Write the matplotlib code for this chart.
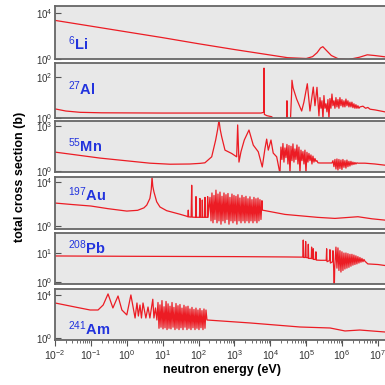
import matplotlib
matplotlib.use('Agg')
import matplotlib.pyplot as plt
from matplotlib import ticker

plt.rcParams['font.family'] = ['Liberation Sans', 'DejaVu Sans']
plt.rcParams['mathtext.fontset'] = 'custom'
plt.rcParams['mathtext.rm'] = 'Liberation Sans'
plt.rcParams['mathtext.it'] = 'Liberation Sans:italic'
plt.rcParams['mathtext.bf'] = 'Liberation Sans:bold'

# ---- data: neutron energy (eV) and total cross section (b) ----
li_E = [0.01, 0.1, 1, 10, 100, 1e3, 1e4, 3e4, 1e5, 1.5e5, 2e5, 2.5e5, 2.9e5, 3.5e5, 5e5,
        8e5, 1.5e6, 3e6, 5e6, 8e6, 2e7]
li_xs = [2240, 710, 224, 71, 21, 6.6, 2.2, 1.3, 1.1, 1.6, 3.5, 9, 11.7, 6.3, 2.0,
         1.0, 0.9, 1.4, 2.3, 2.0, 1.4]

al_E = [0.01, 0.02, 0.05, 0.2, 10, 1e3, 5.5e3, 6.5e3, 6.64e3, 6.8e3, 8e3, 1.1e4, 1.3e4,
        2.85e4, 2.9e4, 2.95e4, 3.6e4, 3.9e4, 4.0e4, 4.3e4, 5.4e4, 7.45e4, 8.6e4, 1.07e5,
        1.27e5, 1.57e5, 1.75e5, 1.99e5, 2.26e5,
        2.41e5, 2.57e5, 2.74e5, 2.92e5, 3.11e5, 3.32e5, 3.54e5, 3.77e5, 4.02e5, 4.29e5,
        4.57e5, 4.87e5, 5.20e5, 5.54e5, 5.91e5, 6.30e5, 6.72e5, 7.16e5, 7.64e5, 8.14e5,
        8.68e5, 9.26e5, 9.87e5, 1.052e6, 1.122e6, 1.196e6, 1.276e6, 1.36e6, 1.45e6, 1.546e6,
        1.649e6, 1.758e6, 1.874e6, 1.998e6, 2.13e6, 2.27e6, 2.42e6, 2.58e6, 2.75e6, 2.94e6,
        3.13e6, 3.8e6, 4.5e6, 5.2e6, 6e6, 8.2e6, 1.56e7, 2.2e7]
al_xs = [2.8, 2.2, 1.9, 1.8, 1.75, 1.75, 1.75, 1.9, 280, 1.5, 1.3, 1.15, 0.6,
         0.6, 7, 0.6, 0.6, 15, 71, 30, 8.5, 2.2, 6, 48,
         2.2, 33, 4, 32, 1.26,
         10, 3, 7, 0.9, 12.6, 3, 5, 2, 8, 0.9,
         9, 3, 15, 4, 7, 3, 10, 3.5, 8, 3,
         10, 4, 8, 3.5, 7, 3.5, 8.5, 4, 7, 3.5,
         6, 3.5, 6, 3.2, 5, 3, 4.5, 3, 4, 3,
         3.5, 3.8, 3.0, 3.3, 2.7, 2.5, 2.0, 1.9]

mn_E = [0.01, 0.18, 4.4, 16, 57, 109, 150, 232, 299, 340, 370, 400, 440, 544, 836, 1151,
        1228, 1335, 1517, 1876, 2535, 3340, 4600, 5946, 7080, 7890, 8750, 1.04e4, 1.2e4,
        1.5e4, 1.85e4,
        1.97e4, 2.10e4, 2.24e4, 2.39e4, 2.55e4, 2.72e4, 2.90e4, 3.09e4, 3.30e4, 3.52e4,
        3.75e4, 4.00e4, 4.26e4, 4.54e4, 4.84e4, 5.16e4, 5.51e4, 5.87e4, 6.26e4, 6.68e4,
        7.12e4, 7.59e4, 8.09e4, 8.63e4, 9.20e4, 9.82e4, 1.046e5, 1.115e5, 1.189e5, 1.268e5,
        1.352e5, 1.442e5, 1.537e5, 1.638e5, 1.747e5, 1.862e5, 1.986e5, 2.118e5, 2.409e5,
        5.20e5, 5.54e5, 5.91e5, 6.30e5, 6.72e5, 7.16e5, 7.64e5, 8.14e5, 8.68e5, 9.26e5,
        9.87e5, 1.052e6, 1.122e6, 1.196e6, 1.276e6, 1.36e6, 1.45e6, 1.546e6, 1.649e6,
        1.758e6, 1.874e6, 1.998e6, 2.13e6, 2.27e6, 2.42e6, 2.58e6, 2.75e6,
        4.3e6, 8.2e6, 1.56e7, 2.2e7]
mn_xs = [18.5, 7.4, 3.4, 2.9, 3.0, 3.3, 3.6, 9, 117, 600, 2500, 600, 195, 25, 15, 9,
         1175, 4, 19.5, 117, 540, 54, 19.5, 1.9, 32, 135, 25, 117, 16,
         9, 0.7,
         40, 6, 69, 4, 35, 8, 60, 3, 50, 0.7,
         45, 5, 65, 4, 30, 6, 55, 3, 40, 0.7,
         25, 5, 20, 3, 25, 0.7, 18, 4, 15, 5,
         12, 3, 10, 4, 7, 4.5, 5, 3.6, 3.5,
         3.5, 5, 2, 6, 1.4, 6.5, 1.2, 6, 1.5, 5.5,
         1.3, 6, 1.8, 5, 1.6, 5.5, 2, 4.5, 2.2,
         4.5, 2.6, 4, 2.8, 3.8, 3, 3.6, 3.4,
         3.4, 3.0, 2.5, 2.4]

au_E = [0.01, 0.03, 0.1, 0.3, 1.0, 2.0, 3.0, 3.6, 4.4, 4.8, 5.05, 5.3, 5.7, 6.8, 8.4, 12.9,
        30, 46, 50.5, 51.6, 52.7, 62, 64.3, 66.5, 82.5, 84.7, 87, 106, 109, 112, 124, 127,
        130, 147, 151, 155, 175, 179, 184,
        208, 222, 236, 252, 269, 286, 305, 326, 347, 370, 395, 421, 449, 478, 510, 544,
        580, 618, 659, 703, 749, 799, 852, 908, 969, 1030, 1100, 1170, 1250, 1340, 1420,
        1520, 1620, 1730, 1840, 1960, 2090, 2230, 2380, 2540, 2700, 2880, 3070, 3280, 3490,
        3720, 3970, 4230, 4520, 4810, 5130, 5470, 5830,
        6000, 2.55e4, 2.1e5, 6.3e5, 2.75e6, 6.8e6, 1.56e7, 2.2e7]
au_xs = [123, 90, 66, 38, 23, 27, 45, 80, 320, 2000, 28000, 4000, 1260, 160, 54, 25,
         12, 8, 7, 28, 7, 6.5, 5000, 6.5, 6.3, 470, 6.3, 6.3, 320, 6.3, 6.3, 230,
         6.3, 6.3, 400, 6.3, 6.3, 470, 6.3,
         400, 3, 1000, 2, 600, 4, 1800, 2, 800, 3, 1200, 1.5, 500, 3, 1000, 2,
         700, 4, 900, 1.5, 400, 3, 800, 2, 600, 3, 500, 1.5, 700, 3, 350,
         2, 600, 3, 400, 2, 500, 3, 300, 2, 450, 3, 250, 2, 400,
         3, 300, 2, 350, 3, 250, 4, 200,
         28, 11.5, 6.2, 5.0, 7.1, 4.6, 3.5, 3.3]

pb_E = [0.01, 1, 1e3, 3e4, 8.0e4, 8.25e4, 8.5e4, 9.4e4, 9.62e4, 9.9e4, 1.11e5, 1.14e5,
        1.17e5, 1.38e5, 1.41e5, 1.45e5, 1.54e5, 1.57e5, 1.61e5, 1.82e5, 1.86e5, 1.9e5,
        2.5e5, 3.6e5, 3.7e5, 3.8e5, 4.45e5, 4.57e5, 4.7e5, 5.4e5, 5.54e5, 5.8e5, 6.03e5,
        6.2e5,
        6.72e5, 7.16e5, 7.64e5, 8.14e5, 8.68e5, 9.26e5, 9.87e5, 1.052e6, 1.122e6, 1.196e6,
        1.276e6, 1.36e6, 1.45e6, 1.546e6, 1.649e6, 1.758e6, 1.874e6, 1.998e6, 2.13e6,
        2.27e6, 2.42e6, 2.58e6, 2.75e6, 2.94e6, 3.13e6, 3.34e6, 3.56e6, 3.80e6, 4.05e6,
        4.32e6, 5.2e6, 1e7, 1.56e7, 2.2e7]
pb_xs = [7.9, 7.7, 7.5, 7.3, 7.2, 28, 7, 7, 25, 7, 6.8, 20,
         6.5, 6.5, 16, 6.3, 6.3, 14, 6.0, 6.0, 11, 5.7,
         5.6, 5.6, 14, 5, 5.5, 13, 4.5, 5, 12, 3, 0.5,
         3,
         16, 3, 15, 2.5, 12, 2.2, 11, 2.5, 10, 2.8,
         10, 3, 9.5, 3.2, 9, 3.5, 9, 3.8, 8.5,
         4, 8, 4.2, 7.5, 4.5, 7, 4.8, 6.5, 5, 6,
         5.2, 4.2, 4.0, 3.7, 3.6]

am_E = [0.01, 0.036, 0.095, 0.158, 0.22, 0.30, 0.41, 0.57, 0.73, 1.0, 1.3, 1.7, 1.92,
        2.1, 2.33, 2.56, 2.83, 3.4, 3.9, 4.4, 5.3, 5.7, 6.3, 6.9,
        7.40, 7.89, 8.41, 8.97, 9.56, 10.2, 10.9, 11.6, 12.4, 13.2, 14.1, 15.0, 16.0, 17.0,
        18.2, 19.4, 20.6, 22.0, 23.5, 25.0, 26.7, 28.5, 30.3, 32.3, 34.5, 36.8, 39.2, 41.8,
        44.6, 47.5, 50.7, 54.0, 57.6, 61.4, 65.5, 69.8, 74.4, 79.4, 84.6, 90.2, 96.2, 102.6,
        109.4, 116.6, 124.3, 132.6, 141.3, 150.7, 160.7, 171.3,
        2700, 6.7e4, 4.6e5, 1.2e6, 3.1e6, 1.56e7, 2.2e7]
am_xs = [1800, 760, 400, 400, 1170, 12500, 620, 8000, 400, 140, 10000, 72, 1800,
         110, 1170, 72, 1800, 72, 760, 72, 4000, 72, 620, 47,
         2000, 8, 1200, 10, 3000, 7, 800, 9, 2500, 6, 1500, 8, 900, 7,
         2000, 10, 700, 6, 1600, 8, 1000, 6, 1300, 9, 600, 6, 1100, 10,
         800, 6, 900, 8, 500, 6, 700, 9, 450, 6, 600, 8, 400, 6,
         550, 9, 350, 6, 500, 8, 400, 47,
         25, 10.5, 8.5, 4.5, 5.5, 3.6, 3.4]

labels = [r'$^{6}$Li', r'$^{27}$Al', r'$^{55}$Mn', r'$^{197}$Au', r'$^{208}$Pb', r'$^{241}$Am']
energies = [li_E, al_E, mn_E, au_E, pb_E, am_E]
sigmas = [li_xs, al_xs, mn_xs, au_xs, pb_xs, am_xs]
ylims = [(1, 4e4), (1, 500), (0.88, 2150), (0.55, 2.8e4), (0.85, 49), (0.65, 3.6e4)]
yticks = [[1, 1e4], [1, 1e2], [1, 1e3], [1, 1e4], [1, 10], [1, 1e4]]

# panel placement (figure fractions)
bottoms = [0.8468, 0.6935, 0.5532, 0.4052, 0.2623, 0.1169]
heights = [0.1377, 0.1429, 0.1325, 0.1351, 0.1325, 0.1325]
label_y = [0.28, 0.53, 0.51, 0.65, 0.72, 0.22]

fig = plt.figure(figsize=(3.85, 3.85), dpi=100)
for i in range(6):
    ax = fig.add_axes([0.1429, bottoms[i], 0.87, heights[i]])
    ax.set_facecolor('#e8e8e8')
    ax.plot(energies[i], sigmas[i], color='#ec1c24', lw=0.9)
    ax.set_xscale('log')
    ax.set_yscale('log')
    ax.set_xlim(1e-2, 2.15e7)
    ax.set_ylim(*ylims[i])
    ax.yaxis.set_major_locator(ticker.FixedLocator(yticks[i]))
    ax.yaxis.set_minor_locator(ticker.NullLocator())
    ax.yaxis.set_major_formatter(ticker.LogFormatterSciNotation())
    ax.tick_params(axis='y', direction='in', length=4, width=0.8, color='#555555',
                   labelsize=7, labelcolor='#333333', pad=2)
    for s in ax.spines.values():
        s.set_color('#666666')
        s.set_linewidth(1.3)
    ax.spines['right'].set_visible(False)
    ax.text(0.04, label_y[i], labels[i], transform=ax.transAxes, color='#2233dd',
            fontsize=10.5, fontweight='bold', va='center', ha='left')
    if i < 5:
        ax.tick_params(axis='x', which='both', bottom=False, labelbottom=False)
    else:
        ax.xaxis.set_major_locator(ticker.LogLocator(base=10, numticks=12))
        ax.xaxis.set_minor_locator(ticker.LogLocator(base=10, subs=range(2, 10), numticks=12))
        ax.xaxis.set_minor_formatter(ticker.NullFormatter())
        ax.tick_params(axis='x', which='major', direction='out', length=4, width=0.8,
                       color='#555555', labelsize=7.5, labelcolor='#333333', pad=2)
        ax.tick_params(axis='x', which='minor', direction='out', length=2.5, width=0.6,
                       color='#555555')
        ax.set_xlabel('neutron energy (eV)', fontsize=9, fontweight='bold', labelpad=1)

fig.text(0.052, 0.54, 'total cross section (b)', rotation=90, fontsize=9,
         fontweight='bold', ha='center', va='center')

fig.savefig('out.png', dpi=100)
